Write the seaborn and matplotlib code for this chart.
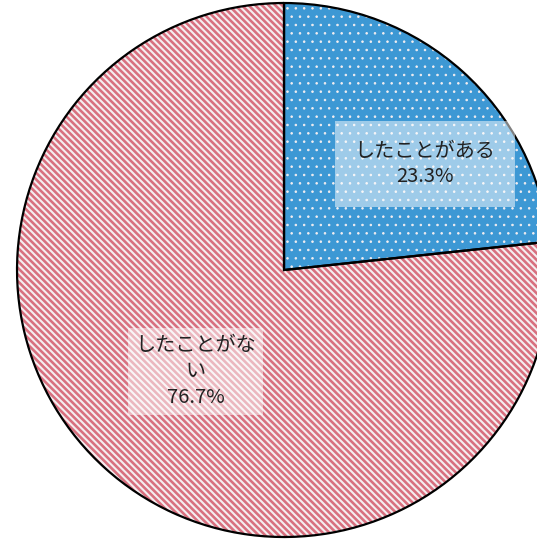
import matplotlib
matplotlib.use("Agg")
import matplotlib.pyplot as plt
import seaborn as sns

sns.set_theme(style="white")
plt.rcParams['font.family'] = ['Noto Sans CJK JP', 'DejaVu Sans']
plt.rcParams['hatch.linewidth'] = 1.2

# data
labels = ["したことがある", "したことがな\nい"]
values = [23.3, 76.7]
colors = ["#3d98d4", "#d8707f"]
hatches = ["..", "\\\\\\\\\\"]
hatch_lw = [0.6, 1.5]
label_pos = [(0.528, 0.397), (-0.33, -0.38)]
box_pads = [0.98, 0.35]

fig = plt.figure(figsize=(5.37, 5.39), dpi=100)
ax = fig.add_axes([0.0317, 0.0037, 0.9944, 0.9907])

# filled wedges with white hatching
wedges, _ = ax.pie(values, colors=colors, startangle=90, counterclock=False,
                   radius=1, wedgeprops=dict(linewidth=0))
for w, h, lw in zip(wedges, hatches, hatch_lw):
    w.set_hatch(h)
    w.set_edgecolor("#f4eef0")
    w.set_linewidth(0)
    w.set_clip_on(False)
    if hasattr(w, "set_hatch_linewidth"):
        w.set_hatch_linewidth(lw)

# black outlines on top
outl, _ = ax.pie(values, colors=["none", "none"], startangle=90, counterclock=False,
                 radius=1, wedgeprops=dict(linewidth=1.6, edgecolor="black", fill=False))
for w in outl:
    w.set_clip_on(False)

for lab, v, (x, y), p in zip(labels, values, label_pos, box_pads):
    ax.text(x, y, f"{lab}\n{v:.1f}%", ha="center", va="center", fontsize=14.5,
            color="#222222", linespacing=1.3,
            bbox=dict(boxstyle=f"square,pad={p}", facecolor="white", alpha=0.5,
                      edgecolor="none"))

ax.set_xlim(-1, 1)
ax.set_ylim(-1, 1)
ax.set_aspect("equal")
ax.axis("off")

fig.savefig("out.png", dpi=100)
